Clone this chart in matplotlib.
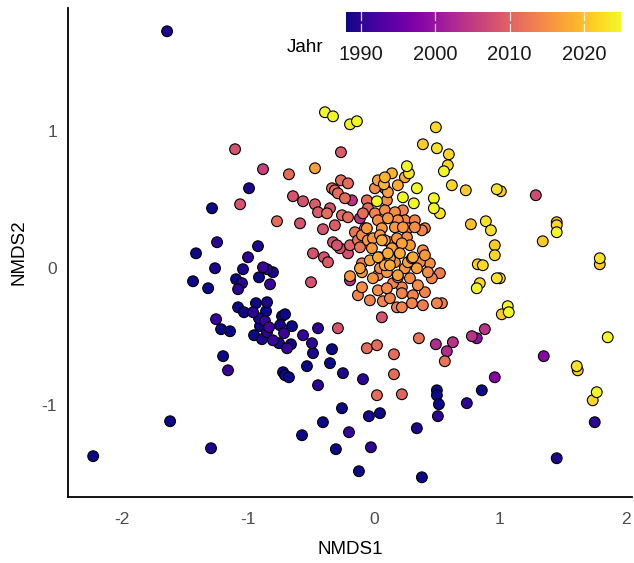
import numpy as np
import matplotlib
matplotlib.use("Agg")
import matplotlib.pyplot as plt
from matplotlib.colors import Normalize

plt.rcParams['font.family'] = ['Liberation Sans', 'DejaVu Sans']

# ---------------- data ----------------
nmds1 = [
    # 1988-1992 (blue)
    -1.643, -2.230, -1.619, -1.294, -1.286, -0.992, -1.246, -1.413, -0.921, -1.000,
    -1.262, -1.437, -1.317, -1.040, -1.095, -1.048, -1.079, -0.913, -0.881, -0.849,
    -0.802, -0.825, -1.079, -1.032, -0.937, -0.849, -0.857, -0.960, -1.254, -1.214,
    -1.143, -0.913, -0.865, -0.905, -0.833, -0.730, -0.706, -0.746, -0.651, -0.714,
    -0.952, -0.889, -0.849, -0.802, -0.754, -0.659, -0.690, -0.563, -0.492, -0.484,
    -0.444, -0.532, -0.349, -1.198, -1.159, -0.722, -0.706, -0.675, -0.444, -0.246,
    -0.254, -0.405, -0.198, -0.571, -0.302, -0.119, -0.087, 0.500, 0.500, 0.516,
    0.508, 0.738, 0.857, -0.040, 0.048, 0.341, -0.024, 0.381, 1.452, 1.754, -0.333,
    # purple
    0.960, 1.349, 0.817,
    # magenta
    0.881, 0.778, 0.627, 0.579, 0.492, -0.111, -0.175, 0.087, -0.190, -0.881,
    # pink
    -1.103, -1.063, -0.643, -0.563, -0.468, -0.444, -0.587, -0.405, -0.484, -0.397,
    -0.500, -0.286, 0.063, -0.262, 1.286, -0.349, -0.310, -0.325, -0.206, -0.270,
    -0.365, -0.294,
    # salmon
    -0.675, -0.770, -0.333, -0.262, -0.206, -0.310, -0.286, -0.230, -0.254, -0.206,
    -0.373, -0.151, -0.071, -0.056, -0.048, -0.087, -0.056, 0.024, 0.159, 0.159,
    0.222, 0.024, 0.357, 0.563, 0.540, 0.524, -0.127, -0.111, -0.095, -0.190,
    # orange
    -0.468, 0.008, 0.032, 0.143, 0.246, 0.103, 0.008, 0.087, 0.167, 0.230,
    0.246, 0.325, 0.032, 0.111, 0.167, 0.063, 0.270, 0.405, -0.048, 0.063,
    0.127, 0.222, -0.032, 0.048, 0.127, 0.206, 0.302, 0.389, 0.405, 0.444,
    -0.111, -0.008, 0.087, 0.103, 0.190, 0.286, 0.341, 0.429, 0.460, -0.095,
    -0.127, 0.032, 0.103, 0.222, 0.222, 0.310, 0.183, 0.222, 0.302, 0.389,
    0.500, 0.071, 0.111, 0.310, 0.032, 0.270, 0.127, 0.190, -0.095, -0.190,
    0.032, 0.262, 0.183, 0.087, -0.008, -0.095, 0.230, 0.325, 0.381, -0.056,
    0.079, 0.087,
    0.167, 0.246, 0.365, -0.016, 0.143, 0.286, 0.048, 0.151, 0.349, -0.032,
    0.127, 0.405, 0.048, 0.190, 0.111, 0.190,
    # yellow
    -0.389, -0.325, -0.190, -0.135, 0.492, 0.389, 0.500, 0.595, 0.587, 0.556,
    0.619, 0.730, 0.976, 1.008, 1.452, 1.452, 1.452, 1.341, 0.770, 0.889,
    0.929, 0.960, 0.960, 0.825, 0.865, 1.794, 1.794, 0.976, 0.817, 0.841,
    1.000, 1.063, 1.016, 1.071, 1.857, 1.611, 1.619, 1.770, 1.738, 0.524,
    0.341, 0.230, 0.024, 0.476, 0.317, 0.476, 0.262, 0.278,
]
nmds2 = [
    # blue
    1.730, -1.372, -1.117, -1.314, 0.438, 0.584, 0.190, 0.109, 0.161, 0.080,
    0.000, -0.095, -0.146, -0.007, -0.080, -0.109, -0.153, -0.066, 0.007, -0.007,
    -0.029, -0.117, -0.285, -0.321, -0.255, -0.248, -0.314, -0.321, -0.372, -0.445,
    -0.460, -0.365, -0.387, -0.423, -0.431, -0.350, -0.336, -0.416, -0.423, -0.474,
    -0.489, -0.518, -0.467, -0.526, -0.547, -0.555, -0.584, -0.489, -0.547, -0.620,
    -0.438, -0.715, -0.693, -0.642, -0.745, -0.759, -0.781, -0.796, -0.854, -0.766,
    -1.022, -1.124, -1.197, -1.219, -1.321, -1.482, -0.810, -0.891, -0.927, -0.993,
    -1.080, -0.985, -0.891, -1.080, -1.058, -1.168, -1.307, -1.526, -1.387, -1.124, -0.591,
    # purple
    -0.796, -0.642, -0.511,
    # magenta
    -0.445, -0.496, -0.540, -0.606, -0.555, 0.365, 0.496, 0.584, -0.088, 0.723,
    # pink
    0.869, 0.467, 0.526, 0.489, 0.467, 0.409, 0.328, 0.285, 0.109, 0.080,
    -0.102, -0.438, -0.358, 0.847, 0.533, 0.438, 0.314, 0.190, 0.109, 0.146,
    0.044, 0.168,
    # salmon
    0.686, 0.343, 0.584, 0.642, 0.620, 0.569, 0.547, 0.511, 0.387, 0.372,
    0.401, 0.263, 0.292, 0.496, 0.438, 0.401, -0.584, -0.562, -0.628, -0.774,
    -0.920, -0.927, -0.511, -0.679, -0.255, -0.036, 0.204, 0.153, 0.036, 0.168,
    # orange
    0.730, 0.584, 0.642, 0.693, 0.664, 0.496, 0.401, 0.423, 0.409, 0.423,
    0.350, 0.350, 0.350, 0.365, 0.299, 0.292, 0.292, 0.292, 0.204, 0.204,
    0.190, 0.182, 0.058, 0.080, 0.073, 0.109, 0.073, 0.131, 0.095, 0.036,
    0.000, -0.073, 0.022, -0.029, -0.066, -0.073, 0.000, -0.029, -0.073, -0.139,
    -0.197, -0.161, -0.146, -0.139, -0.182, -0.197, -0.285, -0.285, -0.255, -0.270,
    -0.255, -0.241, 0.109, 0.080, 0.080, 0.044, 0.022, -0.051, -0.029, -0.058,
    -0.051, 0.226, 0.219, 0.204, 0.219, 0.241, 0.299, 0.299, 0.277, 0.292,
    0.613, 0.664,
    0.044, 0.000, 0.044, 0.146, 0.146, 0.168, 0.000, -0.109, -0.124, -0.234,
    -0.219, -0.175, 0.241, 0.350, 0.555, 0.606,
    # yellow
    1.139, 1.109, 1.051, 1.073, 1.029, 0.905, 0.876, 0.832, 0.752, 0.708,
    0.606, 0.569, 0.577, 0.562, 0.336, 0.314, 0.263, 0.197, 0.321, 0.343,
    0.277, 0.168, 0.095, 0.029, 0.022, 0.073, 0.029, -0.073, -0.146, -0.109,
    -0.073, -0.277, -0.336, -0.321, -0.504, -0.715, -0.745, -0.905, -0.964, 0.401,
    0.584, 0.518, 0.489, 0.511, 0.474, 0.438, 0.745, 0.693,
]
jahr = [
    # blue
    1989, 1988, 1988, 1989, 1988, 1989, 1990, 1988, 1989, 1990,
    1989, 1988, 1988, 1989, 1988, 1990, 1990, 1988, 1991, 1990,
    1989, 1991, 1988, 1988, 1988, 1989, 1988, 1990, 1991, 1988,
    1988, 1989, 1991, 1988, 1992, 1988, 1988, 1989, 1988, 1991,
    1988, 1989, 1990, 1991, 1989, 1988, 1991, 1991, 1990, 1989,
    1990, 1988, 1988, 1988, 1991, 1988, 1988, 1988, 1990, 1989,
    1988, 1988, 1991, 1988, 1988, 1988, 1990, 1988, 1988, 1988,
    1990, 1990, 1988, 1989, 1988, 1989, 1990, 1988, 1989, 1990, 1988,
    # purple
    1998, 1998, 1999,
    # magenta
    2004, 2004, 2004, 2003, 2003, 2004, 2004, 2005, 2004, 2006,
    # pink
    2008, 2008, 2008, 2008, 2009, 2009, 2008, 2008, 2008, 2008,
    2008, 2008, 2008, 2009, 2007, 2008, 2009, 2008, 2008, 2008,
    2009, 2008,
    # salmon
    2011, 2011, 2011, 2011, 2011, 2011, 2011, 2011, 2011, 2011,
    2011, 2012, 2012, 2011, 2011, 2011, 2011, 2011, 2011, 2011,
    2010, 2011, 2012, 2012, 2013, 2013, 2012, 2012, 2013, 2010,
    # orange
    2017, 2015, 2017, 2019, 2018, 2015, 2014, 2015, 2015, 2014,
    2014, 2014, 2015, 2016, 2016, 2016, 2015, 2014, 2016, 2018,
    2016, 2017, 2017, 2018, 2018, 2018, 2018, 2015, 2016, 2015,
    2017, 2016, 2018, 2016, 2015, 2015, 2017, 2015, 2014, 2015,
    2014, 2015, 2015, 2014, 2014, 2014, 2014, 2014, 2014, 2013,
    2014, 2014, 2018, 2018, 2018, 2017, 2018, 2017, 2016, 2016,
    2015, 2015, 2016, 2017, 2016, 2015, 2016, 2015, 2014, 2016,
    2019, 2019,
    2015, 2016, 2015, 2016, 2017, 2016, 2015, 2014, 2015, 2014,
    2014, 2014, 2016, 2015, 2017, 2018,
    # yellow
    2025, 2025, 2024, 2025, 2022, 2021, 2023, 2022, 2022, 2025,
    2022, 2021, 2023, 2021, 2020, 2022, 2025, 2021, 2020, 2023,
    2023, 2021, 2022, 2021, 2022, 2023, 2021, 2023, 2025, 2022,
    2022, 2025, 2021, 2025, 2025, 2023, 2021, 2025, 2022, 2023,
    2025, 2025, 2025, 2025, 2025, 2025, 2025, 2023,
]
cbar_ticks = [1990, 2000, 2010, 2020]
year_min, year_max = 1988, 2025

# ---------------- figure ----------------
W, H = 634, 563
fig = plt.figure(figsize=(W / 100, H / 100), dpi=100)
ax = fig.add_axes([68 / W, 1 - 497 / H, (632 - 68) / W, (497 - 8) / H])

x = np.array(nmds1); y = np.array(nmds2); c = np.array(jahr, dtype=float)
order = np.argsort(c, kind='stable')
norm = Normalize(year_min, year_max)
sc = ax.scatter(x[order], y[order], c=c[order], cmap='plasma', norm=norm,
                s=60, edgecolors='black', linewidths=0.8, zorder=3)

ax.set_xlim(-2.43, 2.05)
ax.set_ylim(-1.67, 1.90)
ax.set_xticks([-2, -1, 0, 1, 2])
ax.set_yticks([-1, 0, 1])
ax.set_xticklabels(['-2', '-1', '0', '1', '2'])
ax.set_yticklabels(['-1', '0', '1'])
for s in ['top', 'right']:
    ax.spines[s].set_visible(False)
for s in ['left', 'bottom']:
    ax.spines[s].set_linewidth(1.3)
    ax.spines[s].set_color('black')
ax.tick_params(axis='x', length=0, labelsize=12.5, labelcolor='#4d4d4d', pad=11)
ax.tick_params(axis='y', length=0, labelsize=12.5, labelcolor='#4d4d4d', pad=8)
ax.set_xlabel('NMDS1', fontsize=13.5, labelpad=10)
ax.set_ylabel('NMDS2', fontsize=13.5, labelpad=10)

# ---------------- colorbar legend ----------------
cax = fig.add_axes([346 / W, 1 - 32 / H, (621 - 346) / W, 20 / H])
cb = fig.colorbar(sc, cax=cax, orientation='horizontal')
cb.outline.set_visible(False)
cb.set_ticks(cbar_ticks)
cax.tick_params(length=0, labelsize=14.5, pad=9, labelcolor='#1a1a1a')
for t in cbar_ticks:
    cax.axvline(t, 0, 0.42, color='white', lw=0.9, alpha=0.85)
    cax.axvline(t, 0.58, 1, color='white', lw=0.9, alpha=0.85)
fig.text(305 / W, 1 - 47 / H, 'Jahr', fontsize=13.5, ha='center', va='center')

fig.savefig('out.png', dpi=100)
